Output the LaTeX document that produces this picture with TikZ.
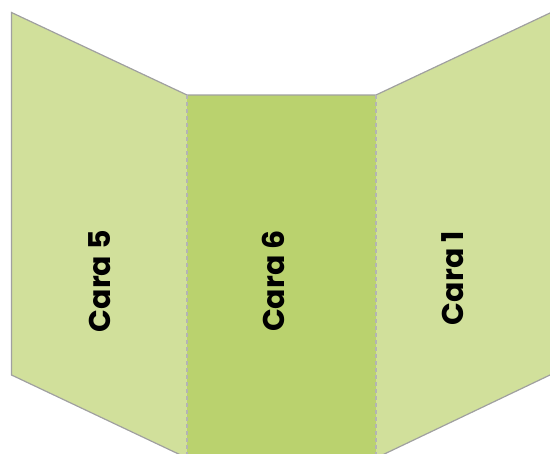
\documentclass[tikz,border=0pt]{standalone}
\usepackage{fontspec}
\setmainfont{Poppins}
\usetikzlibrary{calc}
\definecolor{sidegreen}{RGB}{209,224,155}
\definecolor{midgreen}{RGB}{186,210,110}
\definecolor{edgegray}{RGB}{160,160,160}
\definecolor{foldgray}{RGB}{180,180,180}
\begin{document}
\begin{tikzpicture}[x = 1pt, y = -1pt,
    edge/.style = {draw = edgegray, line width = 1.2pt},
    fold/.style = {draw = foldgray, line width = 1.2pt, dash pattern = on 4pt off 3pt},
    facetext/.style = {rotate = 90, font = \fontsize{30}{32}\selectfont\bfseries}]
                \useasboundingbox(0,0)rectangle(550,454);
                \clip(0,0)rectangle(550,454);
                % corners
                \coordinate(LT)at(11.5,12.5);
                \coordinate(LB)at(11.5,375);
                \coordinate(MT1)at(187,95);
                \coordinate(MT2)at(376,95);
                \coordinate(MB1)at(187,458);
                \coordinate(MB2)at(376,458);
                \coordinate(RT)at(550,13);
                \coordinate(RB)at(550,375);
                % faces
                \path[fill = sidegreen](LT)--(MT1)--(MB1)--(LB)--cycle;
                \path[fill = midgreen](MT1)--(MT2)--(MB2)--(MB1)--cycle;
                \path[fill = sidegreen](MT2)--(RT)--(RB)--(MB2)--cycle;
                % outline
                \path[edge](MB1)--(LB)--(LT)--(MT1)--(MT2)--(RT);
                \path[edge](RB)--(MB2);
                \path[fold](MT1)--(MB1);
                \path[fold](MT2)--(MB2);
                % labels
                \node[facetext](cara5)at(100,281){Cara 5};
                \node[facetext](cara6)at(273,281){Cara 6};
                \node[facetext](cara1)at(453,278){Cara 1};
            \end{tikzpicture}
\end{document}
